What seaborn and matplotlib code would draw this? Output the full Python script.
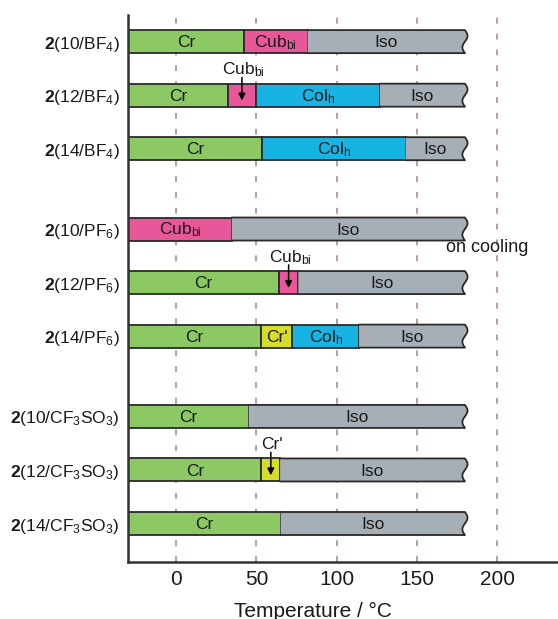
import numpy as np
import pandas as pd
import matplotlib
matplotlib.use("Agg")
import matplotlib.pyplot as plt
import seaborn as sns

# ---------------- data ----------------
compounds = [r"$\mathbf{2}$(10/BF$_4$)", r"$\mathbf{2}$(12/BF$_4$)", r"$\mathbf{2}$(14/BF$_4$)",
             r"$\mathbf{2}$(10/PF$_6$)", r"$\mathbf{2}$(12/PF$_6$)", r"$\mathbf{2}$(14/PF$_6$)",
             r"$\mathbf{2}$(10/CF$_3$SO$_3$)", r"$\mathbf{2}$(12/CF$_3$SO$_3$)", r"$\mathbf{2}$(14/CF$_3$SO$_3$)"]
row_pos = [0, 1, 2, 3.5, 4.5, 5.5, 7, 8, 9]
phases = [["Cr", "Cub", "Iso"],
          ["Cr", "Cub", "Col", "Iso"],
          ["Cr", "Col", "Iso"],
          ["Cub", "Iso"],
          ["Cr", "Cub", "Iso"],
          ["Cr", "Cr'", "Col", "Iso"],
          ["Cr", "Iso"],
          ["Cr", "Cr'", "Iso"],
          ["Cr", "Iso"]]
transitions = [[42, 82],
               [32.5, 49.5, 127],
               [53.5, 143],
               [34.7],
               [64, 76.2],
               [53, 72.5, 114],
               [45.3],
               [53.2, 64.8],
               [65.2]]
t_start, t_end = -30, 180
xticks = [0, 50, 100, 150, 200]

phase_text = {"Cr": "Cr", "Cub": r"Cub$_{\mathrm{bi}}$", "Col": r"Col$_{\mathrm{h}}$",
              "Iso": "Iso", "Cr'": "Cr'"}
phase_color = {"Cr": "#8cc864", "Cub": "#e8579a", "Col": "#16b3e3",
               "Iso": "#a7afb6", "Cr'": "#d6dc2a"}

# build a tidy table of segments
rows = []
for i, (c, ph, tr) in enumerate(zip(compounds, phases, transitions)):
    bounds = [t_start] + list(tr) + [t_end]
    for j, p in enumerate(ph):
        rows.append(dict(compound=c, y=row_pos[i], phase=p, start=bounds[j], end=bounds[j + 1],
                         is_last=(j == len(ph) - 1)))
df = pd.DataFrame(rows)

# ---------------- style ----------------
sns.set_theme(style="white")
plt.rcParams["font.family"] = ["Liberation Sans", "DejaVu Sans"]
plt.rcParams["mathtext.fontset"] = "custom"
plt.rcParams["mathtext.rm"] = "Liberation Sans"
plt.rcParams["mathtext.it"] = "Liberation Sans:italic"
plt.rcParams["mathtext.bf"] = "Liberation Sans:bold"

fig = plt.figure(figsize=(5.58, 6.19), dpi=100)
ax = fig.add_axes([0.2294, 0.092, 0.7706, 0.884])

edge = "#2a2a2a"
bar_h = 0.43
lw = 1.3

# grid lines
for xt in xticks:
    ax.axvline(xt, color="#b08a8a", lw=1.2, ls=(0, (3.5, 6)), zorder=0)

for r in df.itertuples(index=False):
    col = phase_color[r.phase]
    top, bot = r.y - bar_h / 2, r.y + bar_h / 2
    if not r.is_last:
        ax.barh(r.y, r.end - r.start, left=r.start, height=bar_h, color=col,
                edgecolor=edge, linewidth=lw, zorder=2)
    else:
        t = np.linspace(0, 1, 40)
        yy = top + bar_h * t
        xx = r.end + 1.6 * np.sin(2 * np.pi * t)
        px = np.concatenate([[r.start], xx, [r.start]])
        py = np.concatenate([[top], yy, [bot]])
        ax.fill(px, py, facecolor=col, edgecolor="none", zorder=2)
        ax.plot(np.concatenate([[r.start], xx, [r.start]]),
                np.concatenate([[top], yy, [bot]]),
                color=edge, lw=lw, zorder=3, solid_joinstyle="round")
    w = r.end - r.start
    mid = (r.start + r.end) / 2
    if w >= 19:
        ax.text(mid, r.y + 0.02, phase_text[r.phase], ha="center", va="center",
                fontsize=12.5, color="#1a1a1a", zorder=4)
    else:
        ax.text(mid + 1, r.y - 0.47, phase_text[r.phase], ha="center", va="center",
                fontsize=12.5, color="#1a1a1a", zorder=4)
        ax.annotate("", xy=(mid, r.y + 0.1), xytext=(mid, r.y - 0.33),
                    arrowprops=dict(arrowstyle="-|>", color="black", lw=1.1,
                                    mutation_scale=10, shrinkA=0, shrinkB=0),
                    zorder=5)

ax.text(194, 3.85, "on cooling", ha="center", va="center", fontsize=13, color="#1a1a1a")

ax.set_xlim(-30, 238)
ax.set_ylim(9.72, -0.5)
ax.set_yticks(row_pos)
ax.set_yticklabels(compounds, fontsize=12.5, color="#1a1a1a")
ax.set_xticks(xticks)
ax.set_xticklabels([str(v) for v in xticks], fontsize=15, color="#1a1a1a")
ax.tick_params(axis="both", length=0)
ax.tick_params(axis="y", pad=6)
ax.tick_params(axis="x", pad=6)
ax.set_xlabel("Temperature / °C", fontsize=15, color="#1a1a1a")
ax.xaxis.set_label_coords(0.43, -0.072)

for s in ["top", "right"]:
    ax.spines[s].set_visible(False)
for s in ["left", "bottom"]:
    ax.spines[s].set_color("#333333")
    ax.spines[s].set_linewidth(1.8)

fig.savefig("out.png", dpi=100, facecolor="white")
